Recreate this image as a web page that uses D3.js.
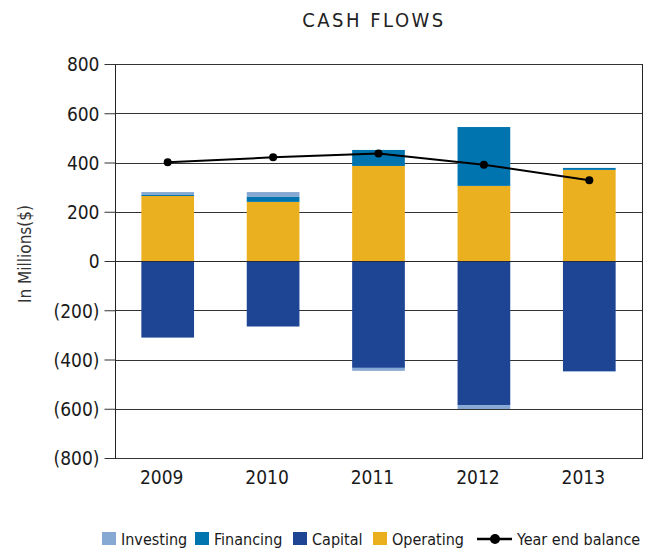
<!DOCTYPE html>
<html>
<head>
<meta charset="utf-8">
<script src="https://cdn.jsdelivr.net/npm/d3@7"></script>
<style>
  body { margin: 0; background: #fff; }
  svg text { font-family: 'Liberation Sans Narrow', 'DejaVu Sans Condensed', 'Arial Narrow', sans-serif; fill: #1a1a1a; }
</style>
</head>
<body>
<div id="chart"></div>
<script>
// chart data
var years = ["2009", "2010", "2011", "2012", "2013"];
var operating = [264, 240, 386, 305, 370];
var capital = [-311, -266, -434, -585, -447];
var financing = [4, 20, 65, 239, 8];
var investing = [12, 20, -12, -16, -3];
var balance = [401, 421, 437, 391, 328];
var yTicks = [800, 600, 400, 200, 0, -200, -400, -600, -800];

var seriesKeys = ["Operating", "Capital", "Financing", "Investing"];
var legendKeys = ["Investing", "Financing", "Capital", "Operating"];
var colors = {
  "Investing": "#86a9d3",
  "Financing": "#0074af",
  "Capital": "#1e4594",
  "Operating": "#ebb020"
};

var width = 653, height = 550;
var margin = {top: 64, right: 11, bottom: 92, left: 115};

var rows = years.map(function(y, i) {
  return {year: y, Operating: operating[i], Capital: capital[i], Financing: financing[i], Investing: investing[i]};
});

var svg = d3.select("#chart").append("svg")
  .attr("width", width)
  .attr("height", height);

var x = d3.scaleBand()
  .domain(years)
  .range([margin.left, width - margin.right])
  .paddingInner(0.5)
  .paddingOuter(0.25);

var y = d3.scaleLinear()
  .domain([-800, 800])
  .range([height - margin.bottom, margin.top]);

// title
svg.append("text")
  .attr("x", 374)
  .attr("y", 27)
  .attr("text-anchor", "middle")
  .style("font-size", "20px")
  .style("letter-spacing", "2.5px")
  .style("fill", "#222")
  .text("CASH FLOWS");

// gridlines
svg.append("g")
  .selectAll("line")
  .data(yTicks)
  .enter()
  .append("line")
    .attr("x1", margin.left)
    .attr("x2", width - margin.right)
    .attr("y1", function(d) { return Math.round(y(d)) + 0.5; })
    .attr("y2", function(d) { return Math.round(y(d)) + 0.5; })
    .attr("stroke", "#333")
    .attr("stroke-width", 1);

// right frame
svg.append("line")
  .attr("x1", width - margin.right + 0.5)
  .attr("x2", width - margin.right + 0.5)
  .attr("y1", y(800))
  .attr("y2", y(-800) + 1)
  .attr("stroke", "#222");

// stacked bars
var stack = d3.stack()
  .keys(seriesKeys)
  .offset(d3.stackOffsetDiverging);

var stacked = stack(rows);

svg.append("g")
  .selectAll("g")
  .data(stacked)
  .enter()
  .append("g")
    .attr("fill", function(d) { return colors[d.key]; })
  .selectAll("rect")
  .data(function(d) { return d; })
  .enter()
  .append("rect")
    .attr("x", function(d) { return x(d.data.year); })
    .attr("width", x.bandwidth())
    .attr("y", function(d) { return y(Math.max(d[0], d[1])); })
    .attr("height", function(d) { return Math.abs(y(d[0]) - y(d[1])); });

// zero line drawn over bars
svg.append("line")
  .attr("x1", margin.left)
  .attr("x2", width - margin.right)
  .attr("y1", Math.round(y(0)) + 0.5)
  .attr("y2", Math.round(y(0)) + 0.5)
  .attr("stroke", "#222")
  .attr("stroke-opacity", 0.7);

// y axis
var yAxis = d3.axisLeft(y)
  .tickValues(yTicks)
  .tickSize(11)
  .tickPadding(5)
  .tickFormat(function(d) { return d < 0 ? "(" + Math.abs(d) + ")" : d; });

var yg = svg.append("g")
  .attr("transform", "translate(" + (margin.left + 0.5) + ",0)")
  .call(yAxis);
yg.select(".domain").attr("stroke", "#222").attr("d", "M0," + y(800) + "V" + (y(-800) + 1));
yg.selectAll(".tick line").attr("stroke", "#333");
yg.selectAll(".tick text")
  .style("font-size", "19px")
  .attr("dy", "0.36em");

// x axis labels
svg.append("g")
  .selectAll("text")
  .data(years)
  .enter()
  .append("text")
    .attr("x", function(d) { return x(d) + x.bandwidth() / 2 - 6; })
    .attr("y", 484)
    .attr("text-anchor", "middle")
    .style("font-size", "19px")
    .text(function(d) { return d; });

// y axis title
svg.append("text")
  .attr("transform", "translate(31,254) rotate(-90)")
  .attr("text-anchor", "middle")
  .style("font-size", "17px")
  .style("fill", "#333")
  .text("In Millions($)");

// year end balance line
var line = d3.line()
  .x(function(d, i) { return x(years[i]) + x.bandwidth() / 2; })
  .y(function(d) { return y(d); });

svg.append("path")
  .datum(balance)
  .attr("fill", "none")
  .attr("stroke", "#000")
  .attr("stroke-width", 2)
  .attr("d", line);

svg.append("g")
  .selectAll("circle")
  .data(balance)
  .enter()
  .append("circle")
    .attr("cx", function(d, i) { return x(years[i]) + x.bandwidth() / 2; })
    .attr("cy", function(d) { return y(d); })
    .attr("r", 4)
    .attr("fill", "#000");

// legend
var legendX = [102, 195, 293, 373];
var legend = svg.append("g");
legendKeys.forEach(function(k, i) {
  legend.append("rect")
    .attr("x", legendX[i])
    .attr("y", 532)
    .attr("width", 14)
    .attr("height", 13)
    .attr("fill", colors[k]);
  legend.append("text")
    .attr("x", legendX[i] + 19)
    .attr("y", 545)
    .style("font-size", "16px")
    .text(k);
});
legend.append("line")
  .attr("x1", 477).attr("x2", 512)
  .attr("y1", 539).attr("y2", 539)
  .attr("stroke", "#000")
  .attr("stroke-width", 2.5);
legend.append("circle")
  .attr("cx", 495).attr("cy", 539).attr("r", 5)
  .attr("fill", "#000");
legend.append("text")
  .attr("x", 517)
  .attr("y", 545)
  .style("font-size", "16px")
  .text("Year end balance");
</script>
</body>
</html>
